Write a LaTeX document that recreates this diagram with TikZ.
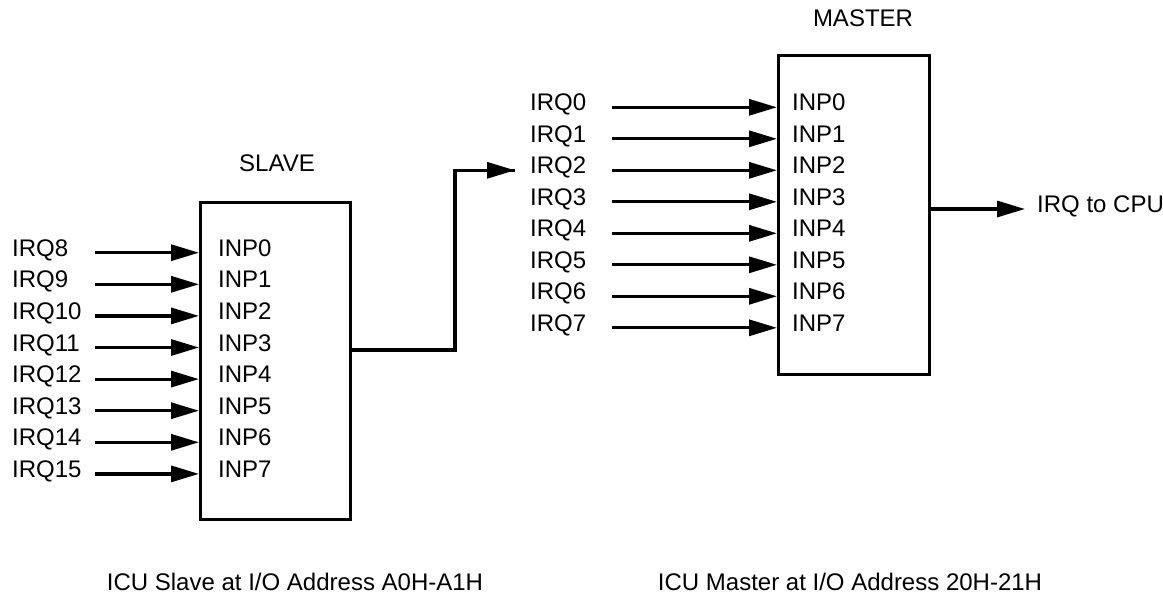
\documentclass[tikz,border=0pt]{standalone}
\usepackage{fontspec}
\setmainfont{Liberation Sans}
\usetikzlibrary{arrows.meta}
\begin{document}
\begin{tikzpicture}[x=1pt,y=-1pt,
  every node/.style={font=\fontsize{24}{28}\selectfont, inner sep=0pt, text height=0.72em, text depth=0pt},
  lbl/.style={anchor=west},
  chip/.style={draw, line width=3.2pt, inner sep=0pt, anchor=north west, text height=, text depth=},
  wire/.style={line width=3.2pt},
  arr/.style={line width=3.2pt, -{Triangle[length=28pt,width=16pt]}}]
\useasboundingbox (0,0) rectangle (1163,600);
% boxes
\node[chip, minimum width=150pt, minimum height=317pt] (slave) at (199,201) {};
\node[chip, minimum width=151pt, minimum height=319pt] (master) at (777,54) {};
\node (slavet) at (277,168) {SLAVE};
\node (mastert) at (863,23) {MASTER};
% slave inputs
\foreach \i/\n in {0/8,1/9,2/10,3/11,4/12,5/13,6/14,7/15}{
  \node[lbl] (irq\n) at (12,252.7+31.6*\i) {IRQ\n};
  \node[lbl] (sinp\i) at (218,252.7+31.6*\i) {INP\i};
  \coordinate (ss\i) at (95,252.7+31.6*\i);
  \draw[arr] (ss\i) -- (slave.west |- ss\i);
}
% master inputs
\foreach \i in {0,...,7}{
  \node[lbl] (irq\i) at (530,107.3+31.5*\i) {IRQ\i};
  \node[lbl] (minp\i) at (792,107.3+31.5*\i) {INP\i};
  \coordinate (ms\i) at (612,107.3+31.5*\i);
  \draw[arr] (ms\i) -- (master.west |- ms\i);
}
% slave output to IRQ2
\coordinate (sout) at (349,350);
\coordinate (bend) at (455,350);
\draw[wire] (slave.east |- sout) -- (bend) |- ([xshift=-15pt]irq2.west);
\draw[arr] ([xshift=-40pt]irq2.west) -- ([xshift=-15pt]irq2.west);
% master output
\node[lbl] (cpu) at (1037,209) {IRQ to CPU};
\draw[arr] (master.east |- cpu) -- ([xshift=-12pt]cpu.west);
% captions
\node (capS) at (295,587) {ICU Slave at I/O Address A0H-A1H};
\node (capM) at (850,587) {ICU Master at I/O Address 20H-21H};
\end{tikzpicture}
\end{document}
